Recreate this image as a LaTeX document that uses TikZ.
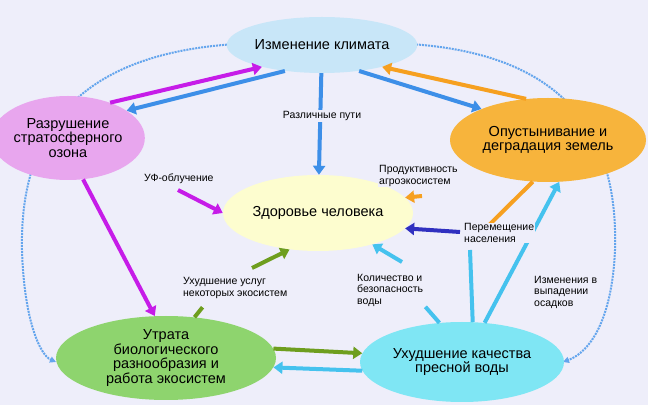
\documentclass[tikz,border=0pt]{standalone}
\usepackage{fontspec}
\setmainfont{Liberation Sans}
\usetikzlibrary{shapes.geometric,arrows.meta}
\definecolor{bg}{HTML}{EEEEFA}
\definecolor{skyfill}{HTML}{C8E6F8}
\definecolor{pinkfill}{HTML}{E8A6EE}
\definecolor{orangefill}{HTML}{F7B43C}
\definecolor{yellowfill}{HTML}{FDFDCF}
\definecolor{greenfill}{HTML}{8ED46E}
\definecolor{cyanfill}{HTML}{7FE6F4}
\definecolor{blue}{HTML}{3D8FE8}
\definecolor{magenta}{HTML}{C61CE8}
\definecolor{orange}{HTML}{F6A020}
\definecolor{green}{HTML}{6E9E1E}
\definecolor{cyan}{HTML}{45C2EE}
\definecolor{navy}{HTML}{3030C0}
\tikzset{
  blob/.style={ellipse, inner sep=0pt, font=\fontsize{14.5}{14.5}\selectfont, align=center},
  lab/.style={font=\fontsize{10.5}{11.5}\selectfont, align=left, fill=bg, inner sep=1pt},
  link/.style={line width=4pt, -{Triangle[length=9pt,width=12pt]}},
  bare/.style={line width=4pt},
  dots/.style={densely dotted, line width=2pt, draw=blue!80, -{Triangle[length=6pt,width=6pt]}}
}
\begin{document}
\begin{tikzpicture}[x=1pt,y=-1pt]
\useasboundingbox (0,0) rectangle (672,419);
\fill[bg] (0,0) rectangle (648,405);
% outer dotted links
\draw[dots] (236,44) .. controls (60,55) and (20,150) .. (22,250) .. controls (24,320) and (40,355) .. (56,362);
\draw[dots] (410,44) .. controls (580,55) and (618,150) .. (615,250) .. controls (612,320) and (590,352) .. (563,362);
% nodes
\node[blob, fill=skyfill, minimum width=176pt, minimum height=56pt] (clim) at (322,45) {Изменение климата};
\node[blob, fill=pinkfill, minimum width=130pt, minimum height=84pt] (ozon) at (68,138) {Разрушение\\стратосферного\\озона};
\node[blob, fill=orangefill, minimum width=196pt, minimum height=84pt] (zeml) at (548,140) {Опустынивание и\\деградация земель};
\node[blob, fill=yellowfill, minimum width=190pt, minimum height=76pt] (zdor) at (318,213) {Здоровье человека};
\node[blob, fill=greenfill, minimum width=220pt, minimum height=84pt] (bio) at (166,358) {Утрата\\биологического\\разнообразия и\\работа экосистем};
\node[blob, fill=cyanfill, minimum width=204pt, minimum height=80pt] (voda) at (462,362) {Ухудшение качества\\пресной воды};
% free ends
\coordinate (uf) at (178,190);
\coordinate (agro) at (422,196);
\coordinate (pere) at (460,232);
\coordinate (kol) at (402,262);
\coordinate (usl) at (252,268);
% links
\draw[link, magenta] (ozon.40) -- (clim.200);
\draw[link, blue] (clim.215) -- (ozon.25);
\draw[link, blue] (clim.325) -- (zeml.155);
\draw[link, orange] (zeml.118) -- (clim.340);
\draw[link, blue] (clim) -- (zdor);
\draw[link, magenta] (ozon.290) -- (bio.105);
\draw[link, magenta] (uf) -- (zdor.180);
\draw[link, orange] (agro) -- (zdor.10);
\draw[link, navy] (pere) -- (zdor.350);
\draw[link, cyan] (kol) -- (zdor.330);
\draw[link, green] (usl) -- (zdor.232);
\draw[bare, green] (bio.55) -- ++(8,-10);
\draw[bare, cyan] (voda.120) -- ++(-14,-16);
\draw[bare, orange] (zeml.250) -- (482,232);
\draw[bare, cyan] (voda.75) -- (470,250);
\draw[link, cyan] (voda.60) -- (zeml.285);
\draw[link, green] (bio.5) -- (voda.175);
\draw[link, cyan] (voda.185) -- (bio.355);
% labels
\node[lab] (put) at (322,116) {Различные пути};
\node[lab, anchor=west] (uflab) at (143,179) {УФ-облучение};
\node[lab, anchor=west] (agrolab) at (378,176) {Продуктивность\\агроэкосистем};
\node[lab, anchor=west] (perelab) at (463,233) {Перемещение\\населения};
\node[lab, anchor=west] (usllab) at (182,288) {Ухудшение услуг\\некоторых экосистем};
\node[lab, anchor=west] (kollab) at (356,290) {Количество и\\безопасность\\воды};
\node[lab, anchor=west] (osad) at (533,292) {Изменения в\\выпадении\\осадков};
\end{tikzpicture}
\end{document}
